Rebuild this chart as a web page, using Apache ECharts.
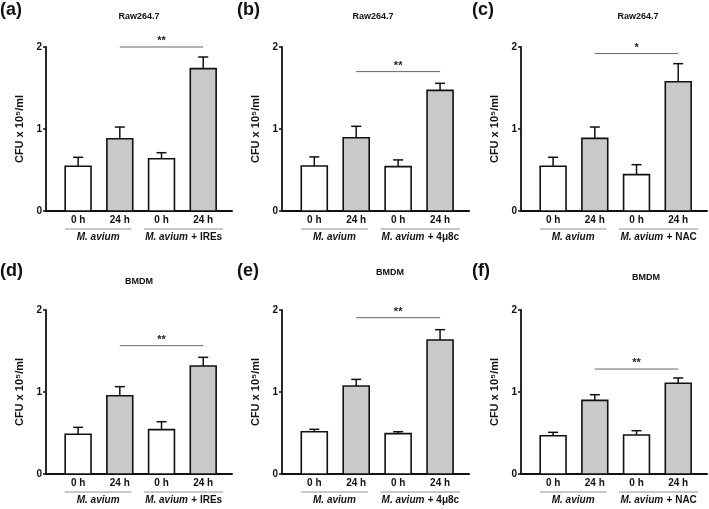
<!DOCTYPE html>
<html>
<head>
<meta charset="utf-8">
<script src="https://cdn.jsdelivr.net/npm/echarts@6/dist/echarts.min.js"></script>
<style>
  html, body { margin: 0; padding: 0; background: #fff; }
  #main { width: 709px; height: 509px; }
</style>
</head>
<body>
<div id="main"></div>
<script>
// ---- data ----
const timeLabels = ['0 h', '24 h', '0 h', '24 h'];
const panelLetters = ['(a)', '(b)', '(c)', '(d)', '(e)', '(f)'];
const cellLines = ['Raw264.7', 'Raw264.7', 'Raw264.7', 'BMDM', 'BMDM', 'BMDM'];
const treatments = ['IREs', '4μ8c', 'NAC', 'IREs', '4μ8c', 'NAC'];
const yTicks = [0, 1, 2];

// mean CFU x 10^5/ml per bar, and the upper error (SEM)
const meanA = [0.545, 0.882, 0.638, 1.736];
const errA  = [0.110, 0.142, 0.073, 0.142];
const meanB = [0.549, 0.893, 0.541, 1.471];
const errB  = [0.111, 0.140, 0.082, 0.086];
const meanC = [0.545, 0.886, 0.443, 1.577];
const errC  = [0.110, 0.138, 0.122, 0.220];
const meanD = [0.484, 0.955, 0.541, 1.317];
const errD  = [0.085, 0.110, 0.097, 0.106];
const meanE = [0.516, 1.073, 0.492, 1.634];
const errE  = [0.029, 0.081, 0.024, 0.126];
const meanF = [0.467, 0.898, 0.476, 1.106];
const errF  = [0.041, 0.069, 0.052, 0.065];

// significance bar between the two 24 h groups
const sigLevel = [2.0, 1.70, 1.92, 1.565, 1.906, 1.28];
const sigMark  = ['**', '**', '*', '**', '**', '**'];

const means = [meanA, meanB, meanC, meanD, meanE, meanF];
const errs  = [errA, errB, errC, errD, errE, errF];

// ---- layout ----
const FONT = 'Arial, "Liberation Sans", sans-serif';
const grids = [
  { left: 46,  top: 47,  width: 186, height: 164 },
  { left: 282, top: 47,  width: 187, height: 164 },
  { left: 521, top: 47,  width: 186, height: 164 },
  { left: 46,  top: 310, width: 186, height: 164 },
  { left: 282, top: 310, width: 187, height: 164 },
  { left: 521, top: 310, width: 186, height: 164 }
];
const letterPos = [[0, 1], [237, 1], [472, 1], [0, 262], [237, 262], [472, 262]];
const subPos = [[139, 12], [373, 12], [638, 12], [139, 277], [390, 268], [646, 273]];

function renderBar(params, api) {
  const i = api.value(0), v = api.value(1), e = api.value(2);
  const base = api.coord([i, 0]);
  const top = api.coord([i, v]);
  const cap = api.coord([i, v + e]);
  const hw = api.size([0.62, 0])[0] / 2;
  const fill = i % 2 ? '#c9c9c9' : '#ffffff';
  return {
    type: 'group',
    children: [
      { type: 'line', shape: { x1: top[0], y1: top[1], x2: cap[0], y2: cap[1] },
        style: { stroke: '#111', lineWidth: 1.5 } },
      { type: 'line', shape: { x1: cap[0] - 5, y1: cap[1], x2: cap[0] + 5, y2: cap[1] },
        style: { stroke: '#111', lineWidth: 1.5 } },
      { type: 'rect', shape: { x: top[0] - hw, y: top[1], width: 2 * hw, height: base[1] - top[1] },
        style: { fill: fill, stroke: '#111', lineWidth: 1.6 } }
    ]
  };
}

function renderTime(params, api) {
  const p = api.coord([api.value(0), 0]);
  return {
    type: 'text',
    style: { x: p[0], y: p[1] + 9, text: timeLabels[api.value(0)], align: 'center', verticalAlign: 'middle',
      font: 'bold 10px ' + FONT, fill: '#111' }
  };
}

function makeGroupRenderer(k) {
  return function (params, api) {
    const a = api.value(0), b = api.value(1);
    const p1 = api.coord([a, 0]);
    const p2 = api.coord([b, 0]);
    const w = api.size([1, 0])[0];
    const wide = a > 0;
    const x1 = p1[0] - w * (wide ? 0.42 : 0.32);
    const x2 = p2[0] + w * (wide ? 0.48 : 0.28);
    const text = wide ? '{i|M. avium} {n|+ ' + treatments[k] + '}' : '{i|M. avium}';
    return {
      type: 'group',
      children: [
        { type: 'line', shape: { x1: x1, y1: p1[1] + 18, x2: x2, y2: p1[1] + 18 },
          style: { stroke: '#777', lineWidth: 0.8 } },
        { type: 'text', style: { x: (x1 + x2) / 2, y: p1[1] + 26, text: text, align: 'center', verticalAlign: 'middle',
          rich: {
            i: { font: 'italic bold 10px ' + FONT, fill: '#111' },
            n: { font: 'bold 10px ' + FONT, fill: '#111' }
          } } }
      ]
    };
  };
}

function renderSig(params, api) {
  const p1 = api.coord([api.value(0), api.value(2)]);
  const p2 = api.coord([api.value(1), api.value(2)]);
  return {
    type: 'group',
    children: [
      { type: 'line', shape: { x1: p1[0], y1: p1[1], x2: p2[0], y2: p2[1] },
        style: { stroke: '#555', lineWidth: 0.9 } },
      { type: 'text', style: { x: (p1[0] + p2[0]) / 2, y: p1[1] - 6, text: sigMark[Math.floor(params.seriesIndex / 4)],
        align: 'center', verticalAlign: 'middle', font: 'bold 11px ' + FONT, fill: '#222' } }
    ]
  };
}

const xAxes = [], yAxes = [], series = [], titles = [];
for (let k = 0; k < 6; k++) {
  xAxes.push({
    type: 'value', gridIndex: k, min: -0.77, max: 3.69,
    axisLine: { show: true, onZero: false, lineStyle: { color: '#111', width: 2 } },
    axisTick: { show: false }, axisLabel: { show: false }, splitLine: { show: false }
  });
  yAxes.push({
    type: 'value', gridIndex: k, min: yTicks[0], max: yTicks[yTicks.length - 1], interval: 1,
    name: 'CFU x 10⁵/ml', nameLocation: 'middle', nameGap: 21, nameRotate: 90,
    nameTextStyle: { fontFamily: FONT, fontWeight: 'bold', fontSize: 11, color: '#111' },
    axisLine: { show: true, onZero: false, lineStyle: { color: '#111', width: 1.8 } },
    axisTick: { show: true, length: 3, lineStyle: { color: '#111', width: 1.5 } },
    axisLabel: { fontFamily: FONT, fontWeight: 'bold', fontSize: 10, color: '#111', margin: 4 },
    splitLine: { show: false }
  });
  const m = means[k], e = errs[k];
  series.push({
    type: 'custom', xAxisIndex: k, yAxisIndex: k, clip: false,
    data: m.map((v, i) => [i, v, e[i]]), renderItem: renderBar
  });
  series.push({
    type: 'custom', xAxisIndex: k, yAxisIndex: k, clip: false,
    data: timeLabels.map((t, i) => [i]), renderItem: renderTime
  });
  series.push({
    type: 'custom', xAxisIndex: k, yAxisIndex: k, clip: false,
    data: [[0, 1], [2, 3]], renderItem: makeGroupRenderer(k)
  });
  series.push({
    type: 'custom', xAxisIndex: k, yAxisIndex: k, clip: false,
    data: [[1, 3, sigLevel[k]]], renderItem: renderSig
  });
  titles.push({
    text: panelLetters[k], left: letterPos[k][0], top: letterPos[k][1], padding: 0,
    textStyle: { fontFamily: FONT, fontWeight: 'bold', fontSize: 18, color: '#111' }
  });
  titles.push({
    text: cellLines[k], left: subPos[k][0], top: subPos[k][1], textAlign: 'center', padding: 0,
    textStyle: { fontFamily: FONT, fontWeight: 'bold', fontSize: 9, color: '#111' }
  });
}

const chart = echarts.init(document.getElementById('main'), null, { renderer: 'canvas' });
chart.setOption({
  backgroundColor: '#fff',
  animation: false,
  title: titles,
  grid: grids,
  xAxis: xAxes,
  yAxis: yAxes,
  series: series
});
</script>
</body>
</html>
